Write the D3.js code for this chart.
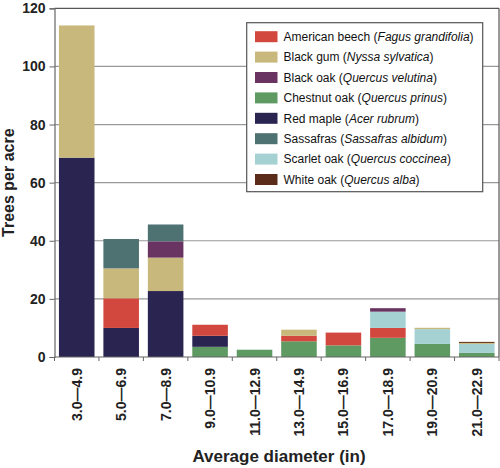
<!DOCTYPE html>
<html>
<head>
<meta charset="utf-8">
<script src="https://cdn.jsdelivr.net/npm/d3@7"></script>
<style>
body { margin: 0; background: #fff; }
svg { font-family: "Liberation Sans", Arial, sans-serif; }
</style>
</head>
<body>
<div id="chart"></div>
<script>
var categories = ["3.0\u20144.9", "5.0\u20146.9", "7.0\u20148.9", "9.0\u201410.9", "11.0\u201412.9",
	"13.0\u201414.9", "15.0\u201416.9", "17.0\u201418.9", "19.0\u201420.9", "21.0\u201422.9"];
var yTicks = [0, 20, 40, 60, 80, 100, 120];

// trees per acre, one array per species
var chestnutOak = [0, 0, 0, 3.5, 2.5, 5.4, 4.0, 6.6, 4.5, 1.4];
var redMaple    = [68.6, 10, 22.7, 3.8, 0, 0, 0, 0, 0, 0];
var beech       = [0, 10.2, 0, 3.8, 0, 1.9, 4.4, 3.4, 0, 0];
var scarletOak  = [0, 0, 0, 0, 0, 0, 0, 5.6, 5.1, 3.1];
var blackGum    = [45.5, 10.3, 11.5, 0, 0, 2.1, 0, 0, 0.45, 0.35];
var blackOak    = [0, 0, 5.6, 0, 0, 0, 0, 1.2, 0, 0];
var sassafras   = [0, 10.1, 5.8, 0, 0, 0, 0, 0, 0, 0];
var whiteOak    = [0, 0, 0, 0, 0, 0, 0, 0, 0, 0.35];

// legend order (alphabetical)
var legendKeys = ["beech", "blackGum", "blackOak", "chestnutOak", "redMaple", "sassafras", "scarletOak", "whiteOak"];
var legendNames = ["American beech", "Black gum", "Black oak", "Chestnut oak", "Red maple", "Sassafras", "Scarlet oak", "White oak"];
var legendLatin = ["Fagus grandifolia", "Nyssa sylvatica", "Quercus velutina", "Quercus prinus", "Acer rubrum", "Sassafras albidum", "Quercus coccinea", "Quercus alba"];
var colors = ["#d2483f", "#c8b87b", "#6a3462", "#5f9a63", "#2a2451", "#4e7172", "#a6d1d3", "#5c2c1b"];

// stacking order, bottom to top
var stackKeys = ["chestnutOak", "redMaple", "beech", "scarletOak", "blackGum", "blackOak", "sassafras", "whiteOak"];
var series = {
	chestnutOak: chestnutOak, redMaple: redMaple, beech: beech, scarletOak: scarletOak,
	blackGum: blackGum, blackOak: blackOak, sassafras: sassafras, whiteOak: whiteOak
};

var table = categories.map(function(c, i){
	var row = { cat: c };
	stackKeys.forEach(function(k){ row[k] = series[k][i]; });
	return row;
});

var color = d3.scaleOrdinal().domain(legendKeys).range(colors);

var plotLeft = 54.5, plotRight = 499, plotTop = 8.3, plotBottom = 357;

var svg = d3.select("#chart")
	.append("svg")
	.attr("width", 500)
	.attr("height", 468);

var x = d3.scaleBand()
	.domain(categories)
	.range([plotLeft, plotRight])
	.paddingInner(0.2)
	.paddingOuter(0.1);

var y = d3.scaleLinear()
	.domain([0, 120])
	.range([plotBottom, plotTop]);

// gridlines
svg.append("g")
	.selectAll("line")
	.data(yTicks.filter(function(d){ return d > 0; }))
	.join("line")
	.attr("x1", plotLeft).attr("x2", plotRight)
	.attr("y1", function(d){ return y(d); })
	.attr("y2", function(d){ return y(d); })
	.attr("stroke", function(d){ return d == 120 ? "#555" : "#999"; })
	.attr("stroke-width", 1.2);

// right frame
svg.append("line")
	.attr("x1", plotRight).attr("x2", plotRight)
	.attr("y1", plotTop).attr("y2", plotBottom)
	.attr("stroke", "#555").attr("stroke-width", 1.2);

var stacked = d3.stack().keys(stackKeys)(table);

svg.append("g")
	.selectAll("g")
	.data(stacked)
	.join("g")
	.attr("fill", function(d){ return color(d.key); })
	.selectAll("rect")
	.data(function(d){ return d; })
	.join("rect")
	.attr("x", function(d){ return x(d.data.cat); })
	.attr("width", x.bandwidth())
	.attr("y", function(d){ return y(d[1]); })
	.attr("height", function(d){ return y(d[0]) - y(d[1]); });

// y axis
var yAxis = d3.axisLeft(y).tickValues(yTicks).tickSize(5).tickPadding(4);
var gy = svg.append("g")
	.attr("transform", "translate(" + plotLeft + ",0)")
	.call(yAxis);
gy.select(".domain").attr("stroke", "#666").attr("stroke-width", 1.2);
gy.selectAll(".tick line").attr("stroke", "#666");
gy.selectAll(".tick text")
	.attr("font-size", 14)
	.attr("font-weight", "bold")
	.attr("fill", "#222");

// x axis
var xAxis = d3.axisBottom(x).tickSize(0).tickPadding(0);
var gx = svg.append("g")
	.attr("transform", "translate(0," + plotBottom + ")")
	.call(xAxis);
gx.select(".domain").attr("d", "M" + plotLeft + ",0H" + plotRight).attr("stroke", "#666").attr("stroke-width", 1.2);
gx.selectAll(".tick text")
	.attr("font-size", 14)
	.attr("font-weight", "bold")
	.attr("fill", "#222")
	.attr("text-anchor", "end")
	.attr("dy", null)
	.attr("transform", "translate(5,11) rotate(-90)");
// boundary ticks
gx.append("g")
	.selectAll("line")
	.data(d3.range(categories.length + 1))
	.join("line")
	.attr("x1", function(i){ return plotLeft + i * x.step(); })
	.attr("x2", function(i){ return plotLeft + i * x.step(); })
	.attr("y1", 0).attr("y2", 4)
	.attr("stroke", "#666");

// axis titles
svg.append("text")
	.attr("transform", "translate(14," + ((plotTop + plotBottom) / 2) + ") rotate(-90)")
	.attr("text-anchor", "middle")
	.attr("font-size", 16)
	.attr("font-weight", "bold")
	.attr("fill", "#222")
	.text("Trees per acre");

svg.append("text")
	.attr("x", 279)
	.attr("y", 462)
	.attr("text-anchor", "middle")
	.attr("font-size", 17)
	.attr("font-weight", "bold")
	.attr("fill", "#222")
	.text("Average diameter (in)");

// legend
var legend = svg.append("g");
legend.append("rect")
	.attr("x", 246.7).attr("y", 22.7)
	.attr("width", 236).attr("height", 169)
	.attr("fill", "#fff")
	.attr("stroke", "#555").attr("stroke-width", 1.2);

var rows = legend.selectAll("g.row")
	.data(legendKeys)
	.join("g")
	.attr("class", "row")
	.attr("transform", function(d, i){ return "translate(255," + (36.7 + i * 20.4) + ")"; });

rows.append("rect")
	.attr("x", 0).attr("y", -5.5)
	.attr("width", 22.5).attr("height", 11)
	.attr("fill", function(d){ return color(d); });

var lt = rows.append("text")
	.attr("x", 28.5)
	.attr("y", 4.3)
	.attr("font-size", 12)
	.attr("fill", "#111");
lt.append("tspan").text(function(d, i){ return legendNames[i] + " ("; });
lt.append("tspan").attr("font-style", "italic").text(function(d, i){ return legendLatin[i]; });
lt.append("tspan").text(")");
</script>
</body>
</html>
